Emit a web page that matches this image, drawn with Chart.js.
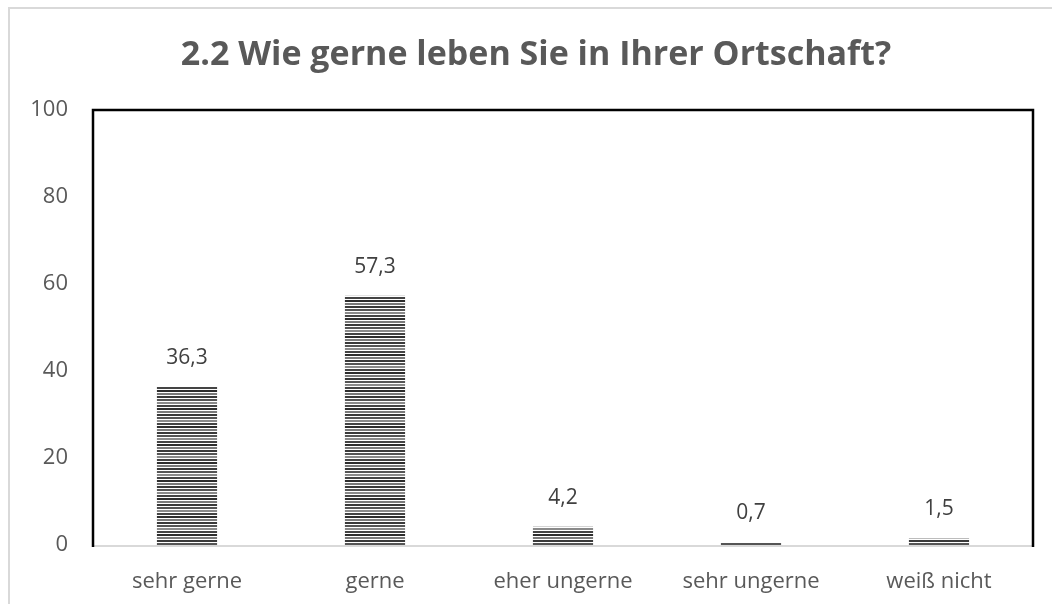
<!DOCTYPE html>
<html><head><meta charset="utf-8">
<script src="https://cdn.jsdelivr.net/npm/chart.js@4.4.1/dist/chart.umd.min.js"></script>
<style>
html,body{margin:0;padding:0;background:#fff;}
#wrap{position:relative;width:1052px;height:604px;overflow:hidden;}
#frame{position:absolute;left:8px;top:7px;width:1100px;height:700px;border-left:2px solid #d9d9d9;border-top:2px solid #d9d9d9;box-sizing:border-box;}
canvas{position:absolute;left:0;top:0;}
</style></head><body>
<div id="wrap"><div id="frame"></div><canvas id="c" width="1052" height="604"></canvas></div>
<script>
const categories = ["sehr gerne","gerne","eher ungerne","sehr ungerne","weiß nicht"];
const values = [36.3, 57.3, 4.2, 0.7, 1.5];
const valueLabels = ["36,3","57,3","4,2","0,7","1,5"];
const yTicks = [0,20,40,60,80,100];
const titleText = "2.2 Wie gerne leben Sie in Ihrer Ortschaft?";

const FONT = "'Open Sans', sans-serif";

function makePattern(ctx){
  const p = document.createElement('canvas');
  p.width = 4; p.height = 18;
  const g = p.getContext('2d');
  g.fillStyle = '#fff'; g.fillRect(0,0,4,18);
  const rows = [[0,2,'#3a3a3a'],[3,2,'#555'],[6,2,'#8a8a8a'],[9,2,'#444'],[12,2,'#2e2e2e'],[15,2,'#7a7a7a']];
  rows.forEach(r=>{g.fillStyle=r[2]; g.fillRect(0,r[0],4,r[1]);});
  return ctx.createPattern(p,'repeat');
}

const canvas = document.getElementById('c');
const ctx = canvas.getContext('2d');
const pattern = makePattern(ctx);

const titlePlugin = {
  id:'titleDraw',
  afterDraw(chart){
    const c = chart.ctx;
    c.save();
    let size = 30;
    c.font = "bold " + size + "px " + FONT;
    const w = c.measureText(titleText).width;
    size = Math.min(34, Math.max(24, size * 715 / w));
    c.font = "bold " + size.toFixed(1) + "px " + FONT;
    c.fillStyle = '#595959';
    c.textAlign = 'center'; c.textBaseline = 'middle';
    c.fillText(titleText, 536, 55);
    c.restore();
  }
};
const framePlugin = {
  id:'frameDraw',
  afterDatasetsDraw(chart){
    const a = chart.chartArea, c = chart.ctx;
    c.save();
    c.strokeStyle = '#d9d9d9'; c.lineWidth = 2;
    c.beginPath(); c.moveTo(a.left, a.bottom+1); c.lineTo(a.right, a.bottom+1); c.stroke();
    c.strokeStyle = '#000'; c.lineWidth = 2.5;
    c.beginPath();
    c.moveTo(a.left, a.bottom+2); c.lineTo(a.left, a.top); c.lineTo(a.right, a.top); c.lineTo(a.right, a.bottom+2);
    c.stroke();
    c.restore();
  }
};
const labelPlugin = {
  id:'valLabels',
  afterDatasetsDraw(chart){
    const c = chart.ctx, meta = chart.getDatasetMeta(0);
    c.save();
    c.font = "21px " + FONT; c.fillStyle = '#404040';
    c.textAlign='center'; c.textBaseline='middle';
    meta.data.forEach((el,i)=>{ c.fillText(valueLabels[i], el.x, el.y - 29); });
    c.restore();
  }
};

new Chart(canvas, {
  type:'bar',
  data:{labels:categories, datasets:[{data:values, backgroundColor:pattern, borderWidth:0, barPercentage:0.64, categoryPercentage:0.5}]},
  options:{
    responsive:false, animation:false,
    layout:{padding:{left:0,right:19,top:110,bottom:0}},
    plugins:{legend:{display:false}, tooltip:{enabled:false}, title:{display:false}},
    scales:{
      x:{grid:{display:false}, border:{display:false},
         ticks:{color:'#595959', font:{family:FONT,size:22}, padding:16},
         afterFit(s){ s.height = 59; }},
      y:{min:0,max:100, grid:{display:false, drawTicks:false}, border:{display:false},
         afterBuildTicks(s){ s.ticks = yTicks.map(v=>({value:v})); },
         ticks:{color:'#595959', font:{family:FONT,size:22}, padding:25},
         afterFit(s){ s.width = 93; }}
    }
  },
  plugins:[titlePlugin, framePlugin, labelPlugin]
});
</script></body></html>
